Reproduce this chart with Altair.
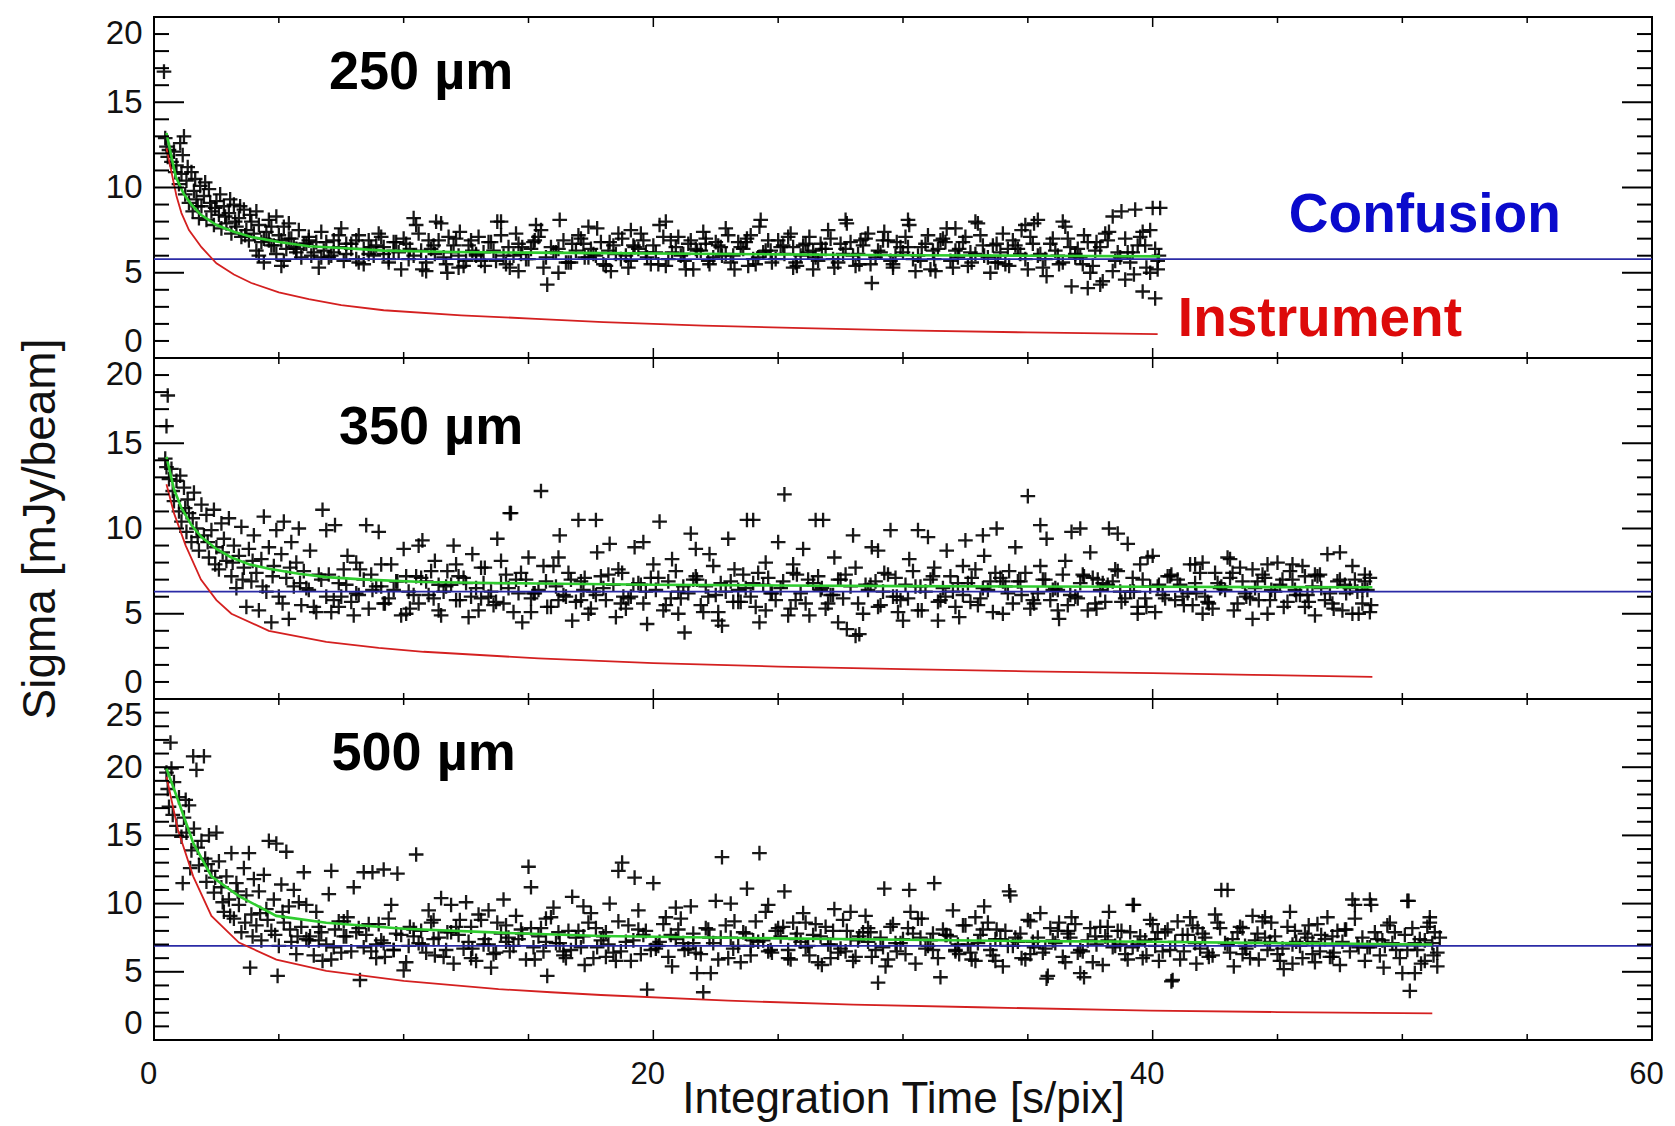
import altair as alt
import pandas as pd

# ---------------- data ----------------
# 250 micron panel: (integration time, sigma)
p250_early = [(0.4,16.8),(0.45,12.9),(0.5,12.4),(0.55,11.8),(0.6,12.2),(0.7,11.5),(0.8,12.1),(0.85,10.9),(0.9,11.3),(1.0,10.2),
              (1.05,12.6),(1.1,10.8),(1.2,13.0),(1.25,9.6),(1.3,10.4),(1.4,9.1),(1.5,10.9),(1.55,8.6),(1.6,9.8),(1.7,9.3),
              (1.8,8.2),(1.85,10.1),(1.9,8.9),(2.0,9.5),(2.1,8.1),(2.2,9.9),(2.3,8.6),(2.4,7.8),(2.5,9.2),(2.6,8.4),
              (2.7,7.6),(2.8,8.9),(2.9,7.9),(3.0,8.5),(3.1,7.3),(3.2,9.0),(3.3,7.7),(3.4,8.2),(3.5,7.1),(3.6,8.7),
              (3.7,7.5),(3.8,6.9),(3.9,8.0),(4.0,7.3),(4.2,7.8),(4.3,6.8),(4.5,7.4),(4.6,8.1),(4.8,6.6),(5.0,7.2),
              (5.2,7.7),(5.3,6.4),(5.5,7.0),(5.7,6.2),(5.8,7.5),(6.0,6.7),(6.2,7.1),(6.3,6.0),(6.5,6.8),(6.7,7.4),
              (6.8,6.3),(7.0,5.9),(7.2,6.9),(7.4,6.5),(7.5,7.6),(7.7,6.1),(7.9,6.7),(8.1,5.8),(8.2,7.2),(8.4,6.4),
              (8.6,6.9),(8.8,6.0),(9.0,7.3),(9.2,6.5),(9.4,5.6),(9.6,6.8),(9.8,6.2),(10.0,7.0),
              (1.15,11.9),(1.35,11.2),(1.65,10.5),(1.75,8.9),(2.05,10.3),(2.25,9.1),(2.45,8.8),(2.65,9.6),(2.85,8.3),(3.05,9.3),
              (3.25,8.0),(3.45,8.9),(3.65,7.2),(3.85,8.4),(4.1,8.6),(4.4,7.0),(4.7,7.7),(4.9,8.3),(5.1,6.9),(5.4,7.9)]
p250_main = [(10.25,6.4),(10.5,7.8),(10.75,5.2),(11.0,6.9),(11.25,6.1),(11.5,7.9),(11.75,5.0),(12.0,6.6),(12.25,7.4),(12.5,5.7),
             (12.75,6.3),(13.0,7.1),(13.25,5.4),(13.5,6.8),(13.75,8.0),(14.0,6.0),(14.25,5.3),(14.5,7.3),(14.75,6.5),(15.0,5.8),
             (15.25,6.9),(15.5,7.5),(15.75,4.3),(16.0,6.2),(16.25,8.1),(16.5,5.6),(16.75,6.7),(17.0,7.2),(17.25,5.9),(17.5,6.4),
             (17.75,7.6),(18.0,5.5),(18.25,6.8),(18.5,6.1),(18.75,7.0),(19.0,5.3),(19.25,6.5),(19.5,7.3),(19.75,5.9),(20.0,6.6),
             (20.25,7.8),(20.5,5.4),(20.75,6.2),(21.0,7.1),(21.25,5.7),(21.5,6.9),(21.75,6.3),(22.0,7.4),(22.25,5.5),(22.5,6.8),
             (22.75,6.0),(23.0,7.2),(23.25,5.2),(23.5,6.5),(23.75,7.0),(24.0,5.8),(24.25,7.7),(24.5,6.3),(24.75,5.6),(25.0,6.9),
             (25.25,6.1),(25.5,7.3),(25.75,5.4),(26.0,6.6),(26.25,7.1),(26.5,5.9),(26.75,6.4),(27.0,7.5),(27.25,5.3),(27.5,6.7),
             (27.75,7.9),(28.0,6.0),(28.25,5.5),(28.5,7.0),(28.75,4.4),(29.0,6.3),(29.25,7.4),(29.5,5.7),(29.75,6.8),(30.0,6.2),
             (30.25,7.8),(30.5,5.1),(30.75,6.5),(31.0,7.2),(31.25,5.8),(31.5,6.9),(31.75,7.6),(32.0,5.3),(32.25,6.4),(32.5,7.1),
             (32.75,5.6),(33.0,7.9),(33.25,6.0),(33.5,5.0),(33.75,6.7),(34.0,7.3),(34.25,5.4),(34.5,6.6),(34.75,7.5),(35.0,5.2),
             (35.25,7.9),(35.5,6.1),(35.75,4.8),(36.0,7.0),(36.25,5.5),(36.5,7.7),(36.75,4.2),(37.0,6.4),(37.25,7.2),(37.5,5.0),
             (37.75,6.8),(38.0,4.5),(38.25,7.4),(38.5,5.7),(38.75,8.6),(39.0,6.2),(39.25,4.9),(39.5,7.1),(39.75,5.3),(40.0,8.8),
             (40.25,6.0)]
p250_extra = [(10.4,8.2),(10.9,5.1),(11.3,8.0),(11.8,7.1),(12.2,5.3),(12.9,6.0),(13.9,8.0),(14.6,5.1),(15.3,7.8),(16.2,5.0),
              (17.4,7.7),(18.3,5.1),(19.1,7.5),(20.5,8.0),(21.3,5.2),(22.1,6.7),(22.9,7.6),(23.8,5.4),(24.3,8.1),(25.6,6.5),
              (26.4,5.2),(27.7,8.1),(28.3,6.9),(29.6,5.3),(30.2,8.1),(31.3,5.1),(32.1,7.6),(32.9,8.0),(33.8,5.6),(34.9,7.8),
              (35.4,8.1),(36.4,8.0),(36.9,5.9),(37.4,4.1),(37.9,4.3),(38.4,8.3),(38.9,4.6),(39.3,8.7),(39.6,3.9),(40.1,3.5),
              (40.3,8.8),(39.9,7.5),(40.2,5.2)]
p250_band_x = [4.1,4.4,4.6,4.9,5.1,5.4,5.6,5.9,6.1,6.4,6.6,6.9,7.1,7.4,7.6,7.9,8.1,8.4,8.6,8.9,
               9.1,9.4,9.6,9.9,10.1,10.4,10.6,10.9,11.1,11.4,11.6,11.9,12.1,12.4,12.6,12.9,13.1,13.4,13.6,13.9,
               14.1,14.4,14.6,14.9,15.1,15.4,15.6,15.9,16.1,16.4,16.6,16.9,17.1,17.4,17.6,17.9,18.1,18.4,18.6,18.9,
               19.1,19.4,19.6,19.9,20.1,20.4,20.6,20.9,21.1,21.4,21.6,21.9,22.1,22.4,22.6,22.9,23.1,23.4,23.6,23.9,
               24.1,24.4,24.6,24.9,25.1,25.4,25.6,25.9,26.1,26.4,26.6,26.9,27.1,27.4,27.6,27.9,28.1,28.4,28.6,28.9,
               29.1,29.4,29.6,29.9,30.1,30.4,30.6,30.9,31.1,31.4,31.6,31.9,32.1,32.4,32.6,32.9,33.1,33.4,33.6,33.9,
               34.1,34.4,34.6,34.9,35.1,35.4,35.6,35.9,36.1,36.4,36.6,36.9,37.1,37.4,37.6,37.9,38.1,38.4,38.6,38.9,
               39.1,39.4,39.6,39.9,40.1]
p250_band_y = [6.3,5.6,6.9,6.1,5.4,7.0,6.5,5.9,6.7,6.2,5.3,6.8,6.0,7.2,5.7,6.4,6.9,5.5,6.1,6.6,
               7.1,5.8,6.3,5.2,6.7,6.0,7.3,5.6,6.4,6.9,5.9,6.2,7.0,5.4,6.6,6.1,5.7,6.8,6.3,7.2,
               5.5,6.0,6.7,5.8,6.4,7.1,5.3,6.5,6.2,6.9,5.6,6.3,7.0,5.9,6.1,6.8,5.4,6.6,7.3,6.0,
               5.7,6.4,6.9,5.5,6.2,7.1,5.8,6.5,6.0,6.7,5.2,6.3,7.0,5.9,6.6,6.1,5.6,6.8,6.4,7.2,
               5.5,6.2,6.9,5.8,6.5,7.1,5.3,6.0,6.7,6.3,5.7,6.4,7.0,5.6,6.1,6.8,5.4,6.6,7.3,5.9,
               6.2,6.9,5.5,6.5,7.1,5.8,6.0,6.7,5.2,6.4,7.0,5.7,6.3,6.8,5.4,6.1,7.2,5.9,6.6,6.2,
               5.5,6.9,6.4,5.8,7.1,6.0,5.3,6.7,6.3,5.6,7.0,6.1,5.9,6.8,5.4,6.5,7.3,5.1,6.2,7.0,
               5.6,6.6,7.4,5.0,6.4]
p250_core_x = [4.2,4.7,5.2,5.7,6.2,6.7,7.2,7.7,8.2,8.7,9.2,9.7,10.2,10.7,11.2,11.7,12.2,12.7,13.2,13.7,
               14.2,14.7,15.2,15.7,16.2,16.7,17.2,17.7,18.2,18.7,19.2,19.7,20.2,20.7,21.2,21.7,22.2,22.7,23.2,23.7,
               24.2,24.7,25.2,25.7,26.2,26.7,27.2,27.7,28.2,28.7,29.2,29.7,30.2,30.7,31.2,31.7,32.2,32.7,33.2,33.7,
               34.2,34.7,35.2,35.7,36.2,36.7,37.2,37.7,38.2,38.7,39.2,39.7,40.2]
p250_core_y = [6.0,6.6,5.7,6.4,6.9,5.9,6.2,6.7,5.6,6.5,6.1,6.8,5.8,6.3,6.6,5.5,6.0,6.9,6.2,5.7,
               6.5,6.1,6.8,5.9,6.4,5.6,6.7,6.0,6.3,5.8,6.6,6.2,5.5,6.9,6.1,6.4,5.7,6.5,6.0,6.8,
               5.9,6.3,6.6,5.6,6.2,6.7,5.8,6.4,6.1,5.5,6.9,6.0,6.5,5.7,6.3,6.8,5.9,6.2,6.6,5.6,
               6.4,6.1,6.7,5.8,6.0,6.5,5.5,6.3,6.9,5.9,6.2,6.6,5.7]

# 350 micron panel
p350_early = [(0.55,17.8),(0.5,16.0),(0.45,14.1),(0.5,13.6),(0.6,12.9),(0.7,13.5),(0.75,12.2),(0.8,11.6),(0.9,12.8),(1.0,11.0),
              (1.05,13.1),(1.1,10.4),(1.2,12.4),(1.3,9.8),(1.35,11.7),(1.4,10.9),(1.5,9.2),(1.6,12.1),(1.7,10.0),(1.8,8.7),
              (1.9,11.4),(2.0,9.6),(2.1,10.8),(2.2,8.3),(2.3,9.9),(2.4,11.1),(2.5,8.9),(2.6,7.6),(2.7,10.3),(2.8,9.4),
              (2.9,8.1),(3.0,10.6),(3.1,7.2),(3.2,9.0),(3.3,6.5),(3.4,8.4),(3.5,10.1),(3.6,7.7),(3.7,5.4),(3.8,8.8),
              (3.9,6.9),(4.0,9.6),(4.1,7.4),(4.2,5.2),(4.3,8.2),(4.4,10.7),(4.5,6.3),(4.6,8.9),(4.7,4.5),(4.8,7.8),
              (4.9,9.9),(5.0,6.0),(5.1,8.5),(5.2,10.4),(5.3,7.1),(5.4,4.7),(5.5,9.2),(5.6,6.6),(5.7,8.0),(5.8,10.0),
              (5.9,5.5),(6.0,7.5),(1.25,11.2),(1.55,10.6),(1.75,9.5),(2.15,9.2),(2.45,7.9),(2.75,8.6),(3.15,8.0),(3.55,7.0),
              (3.95,8.1),(4.35,6.6),(4.75,7.2),(5.15,5.6),(5.45,7.7),(5.85,6.8)]
p350_main = [(6.25,8.7),(6.5,5.1),(6.75,11.1),(7.0,7.3),(7.25,10.2),(7.5,6.0),(7.75,8.4),(8.0,4.9),(8.25,7.6),(8.5,10.2),
             (8.75,6.4),(9.0,9.8),(9.25,5.6),(9.5,7.9),(9.75,6.9),(10.0,8.8),(10.25,5.3),(10.5,7.2),(10.75,9.3),(11.0,6.1),
             (11.25,8.1),(11.5,4.9),(11.75,7.5),(12.0,9.0),(12.25,5.8),(12.5,6.8),(12.75,8.5),(13.0,5.2),(13.25,7.7),(13.5,6.3),
             (13.75,9.4),(14.0,5.6),(14.25,10.9),(14.5,7.0),(14.75,4.5),(15.0,8.3),(15.25,6.2),(15.5,12.2),(15.75,5.4),(16.0,7.8),
             (16.25,9.6),(16.5,6.0),(16.75,4.6),(17.0,10.5),(17.25,7.1),(17.5,5.3),(17.75,8.6),(18.0,6.5),(18.25,9.1),(18.5,4.8),
             (18.75,7.4),(19.0,5.9),(19.25,8.9),(19.5,6.7),(19.75,4.4),(20.0,7.9),(20.25,10.4),(20.5,5.5),(20.75,8.2),(21.0,6.3),
             (21.25,3.9),(21.5,9.7),(21.75,7.0),(22.0,5.1),(22.25,8.5),(22.5,6.1),(22.75,4.3),(23.0,9.4),(23.25,7.6),(23.5,5.7),
             (23.75,10.5),(24.0,6.8),(24.25,4.5),(24.5,8.0),(24.75,6.2),(25.0,9.2),(25.25,12.0),(25.5,5.3),(25.75,7.3),(26.0,8.8),
             (26.25,4.9),(26.5,10.5),(26.75,6.5),(27.0,5.6),(27.25,8.3),(27.5,7.0),(27.75,4.1),(28.0,9.6),(28.25,3.8),(28.5,6.7),
             (28.75,8.9),(29.0,5.4),(29.25,7.4),(29.5,9.9),(29.75,6.0),(30.0,4.6),(30.25,8.2),(30.5,6.6),(30.75,5.2),(31.0,9.5),
             (31.25,7.7),(31.5,5.8),(31.75,8.7),(32.0,6.3),(32.25,4.8),(32.5,9.3),(32.75,7.1),(33.0,5.5),(33.25,8.4),(33.5,6.9),
             (33.75,10.0),(34.0,5.0),(34.25,7.5),(34.5,8.9),(34.75,6.1),(35.0,11.9),(35.25,5.6),(35.5,7.8),(35.75,9.4),(36.0,6.4),
             (36.25,4.7),(36.5,8.1),(36.75,9.8),(37.0,5.9),(37.25,7.2),(37.5,8.6),(37.75,5.3),(38.0,6.8),(38.25,10.0),(38.5,7.6),
             (38.75,5.7),(39.0,9.1),(39.25,6.3),(39.5,7.9),(39.75,5.4),(40.0,8.4),(40.25,6.7),(40.5,5.9),(40.75,7.3),(41.0,7.0),
             (41.25,5.5),(41.5,7.9),(41.75,6.2),(42.0,8.0),(42.25,5.6),(42.5,7.4),(42.75,6.6),(43.0,8.3),(43.25,5.2),(43.5,7.7),
             (43.75,6.0),(44.0,7.6),(44.25,5.8),(44.5,7.1),(44.75,6.4),(45.0,8.0),(45.25,5.4),(45.5,7.5),(45.75,6.1),(46.0,7.8),
             (46.25,5.7),(46.5,7.3),(46.75,6.5),(47.0,8.5),(47.25,5.3),(47.5,7.0),(47.75,6.2),(48.0,7.8),(48.25,5.0),(48.5,6.9),
             (48.75,5.5)]
p350_extra = [(6.9,9.9),(7.4,5.4),(8.1,8.0),(9.1,6.6),(10.1,5.0),(10.6,9.0),(11.4,6.7),(12.1,7.9),(13.1,5.9),(13.9,8.1),
              (14.3,10.9),(15.1,5.1),(16.2,8.3),(17.1,5.8),(17.7,10.5),(18.8,6.0),(19.6,9.2),(21.0,5.0),(21.7,8.8),(22.6,4.6),
              (23.4,6.4),(24.0,10.5),(24.5,5.2),(25.6,7.9),(26.8,10.5),(27.4,4.5),(28.1,3.7),(29.0,8.7),(29.8,5.1),(30.6,9.9),
              (31.4,4.6),(32.4,7.8),(33.2,9.6),(34.0,6.9),(35.5,10.2),(36.2,5.2),(37.1,10.0),(37.8,7.0),(38.6,9.7),(39.4,5.0),
              (39.8,8.3),(41.7,7.9),(42.0,5.0),(43.1,8.2),(44.0,4.7),(44.6,7.9),(45.6,7.9),(46.1,7.2),(46.5,4.9),(47.5,8.6),
              (48.0,5.0),(48.5,7.3),(48.7,5.1),(48.4,6.4)]
p350_band_x = [6.1,6.4,6.6,6.9,7.1,7.4,7.6,7.9,8.1,8.4,8.6,8.9,9.1,9.4,9.6,9.9,10.1,10.4,10.6,10.9,
               11.1,11.4,11.6,11.9,12.1,12.4,12.6,12.9,13.1,13.4,13.6,13.9,14.1,14.4,14.6,14.9,15.1,15.4,15.6,15.9,
               16.1,16.4,16.6,16.9,17.1,17.4,17.6,17.9,18.1,18.4,18.6,18.9,19.1,19.4,19.6,19.9,20.1,20.4,20.6,20.9,
               21.1,21.4,21.6,21.9,22.1,22.4,22.6,22.9,23.1,23.4,23.6,23.9,24.1,24.4,24.6,24.9,25.1,25.4,25.6,25.9,
               26.1,26.4,26.6,26.9,27.1,27.4,27.6,27.9,28.1,28.4,28.6,28.9,29.1,29.4,29.6,29.9,30.1,30.4,30.6,30.9,
               31.1,31.4,31.6,31.9,32.1,32.4,32.6,32.9,33.1,33.4,33.6,33.9,34.1,34.4,34.6,34.9,35.1,35.4,35.6,35.9,
               36.1,36.4,36.6,36.9,37.1,37.4,37.6,37.9,38.1,38.4,38.6,38.9,39.1,39.4,39.6,39.9,40.1,40.4,40.6,40.9,
               41.1,41.4,41.6,41.9,42.1,42.4,42.6,42.9,43.1,43.4,43.6,43.9,44.1,44.4,44.6,44.9,45.1,45.4,45.6,45.9,
               46.1,46.4,46.6,46.9,47.1,47.4,47.6,47.9,48.1,48.4,48.6]
p350_band_y = [6.5,5.4,7.3,6.0,5.1,6.8,7.6,5.7,6.2,7.0,5.3,6.6,7.9,5.9,6.4,4.9,7.2,6.1,5.6,6.9,
               7.5,5.2,6.3,6.7,5.8,7.1,4.8,6.5,7.7,6.0,5.5,6.8,7.3,5.1,6.2,7.0,5.9,6.4,7.8,5.4,
               6.6,6.1,7.4,5.7,6.9,5.0,6.3,7.2,5.8,6.7,7.6,5.3,6.0,6.8,5.6,7.1,6.4,5.2,6.9,7.5,
               5.9,6.2,7.0,5.5,6.6,7.8,5.1,6.3,6.9,5.7,7.3,6.0,5.4,6.7,7.1,5.8,6.5,4.9,7.4,6.2,
               5.6,6.8,7.2,5.3,6.1,7.0,5.9,6.6,7.7,5.0,6.4,6.9,5.5,7.3,6.0,5.8,6.7,7.5,5.2,6.3,
               7.0,5.7,6.5,7.2,5.4,6.1,6.8,7.6,5.9,6.4,5.1,7.1,6.6,5.6,6.9,7.4,5.3,6.2,7.0,5.8,
               6.5,7.3,5.5,6.0,6.8,5.2,7.1,6.4,5.7,6.9,7.5,5.9,6.3,5.4,7.0,6.6,5.1,6.1,7.2,5.8,
               6.7,6.2,5.5,7.4,6.0,5.3,6.8,6.4,7.1,5.6,6.9,5.9,6.5,7.3,5.0,6.3,6.7,5.7,7.0,6.1,
               5.4,6.6,7.2,5.8,6.2,6.9,5.2,6.5,7.0,5.6,6.4]
p350_core_x = [6.2,6.7,7.2,7.7,8.2,8.7,9.2,9.7,10.2,10.7,11.2,11.7,12.2,12.7,13.2,13.7,14.2,14.7,15.2,15.7,
               16.2,16.7,17.2,17.7,18.2,18.7,19.2,19.7,20.2,20.7,21.2,21.7,22.2,22.7,23.2,23.7,24.2,24.7,25.2,25.7,
               26.2,26.7,27.2,27.7,28.2,28.7,29.2,29.7,30.2,30.7,31.2,31.7,32.2,32.7,33.2,33.7,34.2,34.7,35.2,35.7,
               36.2,36.7,37.2,37.7,38.2,38.7,39.2,39.7,40.2,40.7,41.2,41.7,42.2,42.7,43.2,43.7,44.2,44.7,45.2,45.7,
               46.2,46.7,47.2,47.7,48.2,48.7]
p350_core_y = [6.4,7.0,5.8,6.7,6.1,7.3,5.6,6.9,6.3,7.1,5.9,6.6,7.2,6.0,6.8,5.7,6.5,7.4,6.2,6.9,
               5.8,7.0,6.4,6.1,7.3,5.6,6.7,6.3,7.1,5.9,6.6,7.2,6.0,6.8,5.7,6.5,7.4,6.2,6.9,5.8,
               7.0,6.4,6.1,7.3,5.6,6.7,6.3,7.1,5.9,6.6,7.2,6.0,6.8,5.7,6.5,7.4,6.2,6.9,5.8,7.0,
               6.4,6.1,7.3,5.6,6.7,6.3,7.1,5.9,6.6,7.2,6.0,6.8,5.7,6.5,7.4,6.2,6.9,5.8,7.0,6.4,
               6.1,7.3,5.6,6.7,6.3,7.1]

# 500 micron panel
p500_early = [(0.5,19.6),(0.66,21.8),(0.7,19.9),(0.55,18.4),(0.6,17.1),(0.75,16.5),(0.8,18.9),(0.9,15.7),(1.0,17.8),(1.1,14.9),
              (1.2,16.3),(1.27,17.6),(1.3,15.2),(1.4,17.2),(1.5,13.9),(1.57,20.8),(1.6,15.5),(1.7,19.8),(1.8,12.8),(1.9,14.6),
              (2.0,20.8),(2.05,13.3),(2.1,11.6),(2.2,15.0),(2.3,12.4),(2.4,10.8),(2.5,15.2),(2.6,13.1),(2.7,11.2),(2.8,9.4),
              (2.9,12.0),(3.0,10.3),(3.1,13.7),(3.2,8.9),(3.3,11.5),(3.4,9.9),(3.5,7.9),(3.6,12.6),(3.7,10.6),(3.8,13.7),
              (3.85,5.3),(3.9,9.2),(4.0,11.8),(4.1,8.4),(4.2,10.9),(4.3,7.3),(4.4,12.1),(4.5,9.6),(4.6,14.6),(4.7,8.0),
              (4.8,10.3),(4.9,14.4),(4.95,4.7),(5.0,6.9),(5.1,11.4),(5.2,8.6),(5.3,13.8),(5.4,9.8),(5.5,7.2),(5.6,11.0),
              (5.7,6.3),(5.8,10.1),(5.9,8.3),(6.0,12.3),(1.15,11.5),(1.45,12.6),(1.75,14.1),(2.15,12.9),(2.45,11.9),(2.75,10.1),
              (3.05,9.1),(3.35,10.9),(3.65,8.6),(3.95,7.6),(4.25,9.3),(4.55,8.8),(4.85,7.7),(5.15,9.4),(5.45,8.1),(5.75,7.6)]
p500_main = [(6.25,7.6),(6.5,9.4),(6.75,5.8),(7.0,10.7),(7.25,8.1),(7.5,6.4),(7.75,9.0),(8.0,11.2),(8.25,4.4),(8.5,7.7),
             (8.75,12.3),(9.0,8.5),(9.25,6.1),(9.5,9.9),(9.75,12.2),(10.0,5.1),(10.25,8.3),(10.5,13.6),(10.75,7.0),(11.0,9.5),
             (11.25,6.2),(11.5,10.4),(11.75,7.9),(12.0,5.6),(12.25,8.8),(12.5,10.1),(12.75,6.7),(13.0,9.2),(13.25,7.4),(13.5,5.3),
             (13.75,8.6),(14.0,10.3),(14.25,6.5),(14.5,9.1),(14.75,7.8),(15.0,12.7),(15.25,5.9),(15.5,8.2),(15.75,4.7),(16.0,9.7),
             (16.25,7.1),(16.5,6.0),(16.75,10.5),(17.0,8.0),(17.25,5.5),(17.5,9.3),(17.75,6.8),(18.0,7.6),(18.25,10.0),(18.5,5.8),
             (18.75,13.0),(19.0,8.4),(19.25,11.9),(19.5,6.3),(19.75,3.7),(20.0,11.5),(20.25,7.2),(20.5,9.0),(20.75,5.4),(21.0,8.1),
             (21.25,6.6),(21.5,9.8),(21.75,4.9),(22.0,3.5),(22.25,7.5),(22.5,10.2),(22.75,13.4),(23.0,6.0),(23.25,8.7),(23.5,5.7),
             (23.75,11.1),(24.0,7.3),(24.25,13.7),(24.5,9.4),(24.75,6.4),(25.0,8.2),(25.25,10.9),(25.5,5.9),(25.75,7.8),(26.0,9.3),
             (26.25,6.2),(26.5,8.5),(26.75,5.5),(27.0,7.0),(27.25,9.6),(27.5,6.7),(27.75,8.0),(28.0,5.8),(28.25,7.6),(28.5,9.1),
             (28.75,6.1),(29.0,4.2),(29.25,11.1),(29.5,8.3),(29.75,6.5),(30.0,7.4),(30.25,11.0),(30.5,5.6),(30.75,8.9),(31.0,6.9),
             (31.25,11.5),(31.5,4.6),(31.75,7.7),(32.0,9.5),(32.25,6.3),(32.5,8.4),(32.75,5.9),(33.0,7.1),(33.25,9.8),(33.5,6.6),
             (33.75,8.1),(34.0,5.4),(34.25,10.9),(34.5,7.5),(34.75,6.0),(35.0,8.8),(35.25,6.8),(35.5,9.3),(35.75,4.5),(36.0,7.3),
             (36.25,8.6),(36.5,5.7),(36.75,9.0),(37.0,6.4),(37.25,4.6),(37.5,8.2),(37.75,7.0),(38.0,5.5),(38.25,9.4),(38.5,6.9),
             (38.75,8.0),(39.0,5.9),(39.25,9.9),(39.5,7.6),(39.75,6.2),(40.0,8.5),(40.25,5.8),(40.5,7.9),(40.75,4.3),(41.0,8.7),
             (41.25,6.5),(41.5,9.0),(41.75,5.6),(42.0,7.8),(42.25,6.1),(42.5,9.2),(42.75,11.0),(43.0,7.0),(43.25,5.4),(43.5,8.3),
             (43.75,6.7),(44.0,9.1),(44.25,5.9),(44.5,7.5),(44.75,8.6),(45.0,6.3),(45.25,5.2),(45.5,9.4),(45.75,7.2),(46.0,6.0),
             (46.25,8.4),(46.5,5.7),(46.75,7.7),(47.0,9.0),(47.25,6.4),(47.5,5.5),(47.75,8.1),(48.0,10.3),(48.25,6.8),(48.5,5.8),
             (48.75,9.9),(49.0,7.4),(49.25,5.3),(49.5,8.6),(49.75,6.6),(50.0,4.9),(50.25,10.2),(50.5,7.1),(50.75,5.6),(51.0,8.3),
             (51.25,6.2),(51.5,7.5)]
p500_extra = [(6.1,9.9),(6.6,7.3),(7.1,12.4),(7.6,8.7),(8.4,12.3),(8.9,7.0),(9.2,12.5),(9.6,6.6),(10.4,7.6),(11.2,8.8),
              (11.9,9.9),(12.7,6.0),(13.4,9.5),(14.1,7.2),(15.1,11.2),(15.7,8.9),(16.4,6.5),(17.2,9.8),(18.1,6.1),(18.6,12.4),
              (19.4,9.5),(20.1,6.7),(20.9,9.7),(21.6,7.1),(22.3,4.9),(23.1,10.0),(23.9,6.9),(24.6,9.9),(25.4,6.6),(26.1,8.6),
              (27.1,6.0),(27.9,9.4),(28.6,7.2),(29.3,5.4),(30.3,9.4),(31.2,7.8),(32.1,6.6),(32.9,9.0),(33.7,5.8),(34.3,10.6),
              (35.1,6.3),(35.8,4.7),(36.6,8.0),(37.1,4.9),(38.2,7.3),(39.2,9.9),(40.1,6.9),(40.8,4.4),(41.8,8.2),(43.0,11.0),
              (43.6,6.3),(44.5,9.0),(45.6,5.6),(46.4,7.2),(47.2,6.1),(48.1,9.9),(48.7,10.3),(49.3,6.9),(50.2,10.2),(50.3,3.6),
              (50.5,4.9),(50.9,5.8),(51.3,7.9),(51.4,5.4),(51.1,9.0)]
p500_band_x = [6.1,6.4,6.6,6.9,7.1,7.4,7.6,7.9,8.1,8.4,8.6,8.9,9.1,9.4,9.6,9.9,10.1,10.4,10.6,10.9,
               11.1,11.4,11.6,11.9,12.1,12.4,12.6,12.9,13.1,13.4,13.6,13.9,14.1,14.4,14.6,14.9,15.1,15.4,15.6,15.9,
               16.1,16.4,16.6,16.9,17.1,17.4,17.6,17.9,18.1,18.4,18.6,18.9,19.1,19.4,19.6,19.9,20.1,20.4,20.6,20.9,
               21.1,21.4,21.6,21.9,22.1,22.4,22.6,22.9,23.1,23.4,23.6,23.9,24.1,24.4,24.6,24.9,25.1,25.4,25.6,25.9,
               26.1,26.4,26.6,26.9,27.1,27.4,27.6,27.9,28.1,28.4,28.6,28.9,29.1,29.4,29.6,29.9,30.1,30.4,30.6,30.9,
               31.1,31.4,31.6,31.9,32.1,32.4,32.6,32.9,33.1,33.4,33.6,33.9,34.1,34.4,34.6,34.9,35.1,35.4,35.6,35.9,
               36.1,36.4,36.6,36.9,37.1,37.4,37.6,37.9,38.1,38.4,38.6,38.9,39.1,39.4,39.6,39.9,40.1,40.4,40.6,40.9,
               41.1,41.4,41.6,41.9,42.1,42.4,42.6,42.9,43.1,43.4,43.6,43.9,44.1,44.4,44.6,44.9,45.1,45.4,45.6,45.9,
               46.1,46.4,46.6,46.9,47.1,47.4,47.6,47.9,48.1,48.4,48.6,48.9,49.1,49.4,49.6,49.9,50.1,50.4,50.6,50.9,
               51.1,51.4]
p500_band_y = [7.4,6.2,8.3,7.0,5.9,8.7,7.6,6.5,7.9,6.8,8.5,6.0,7.3,8.9,6.6,7.7,5.7,8.1,7.1,6.4,
               8.6,7.5,6.1,7.9,8.3,6.7,7.2,5.8,8.8,7.0,6.3,7.8,8.4,6.9,7.4,5.9,8.2,7.6,6.5,9.0,
               7.1,6.2,8.0,7.5,6.8,8.6,6.0,7.3,7.9,6.4,8.7,7.2,5.8,8.1,7.7,6.6,7.0,8.5,6.1,7.4,
               8.9,6.7,7.8,6.3,8.2,7.1,5.9,8.4,7.5,6.9,7.9,6.2,8.7,7.3,6.5,8.0,7.6,6.0,8.6,7.2,
               6.8,7.7,5.7,8.3,7.0,6.4,8.8,7.4,6.1,7.9,8.2,6.6,7.5,5.9,8.5,7.1,6.3,7.8,8.9,6.7,
               7.3,6.0,8.1,7.6,6.5,8.4,7.0,5.8,7.7,8.6,6.2,7.4,8.0,6.9,7.2,5.9,8.7,7.5,6.4,8.2,
               7.1,6.1,7.8,8.5,6.6,7.3,5.7,8.3,7.6,6.8,8.0,6.3,7.9,7.0,6.0,8.8,7.4,6.5,8.1,7.2,
               5.9,7.7,8.4,6.7,7.5,6.2,8.6,7.1,6.4,7.9,8.2,6.0,7.3,8.7,6.6,7.6,5.8,8.3,7.0,6.9,
               7.8,6.3,8.5,7.4,6.1,8.0,7.2,6.5,8.9,7.5,6.8,7.9,6.2,8.4,7.1,6.0,7.7,8.2,6.6,7.3,
               8.6,6.4]
p500_core_x = [6.2,6.7,7.2,7.7,8.2,8.7,9.2,9.7,10.2,10.7,11.2,11.7,12.2,12.7,13.2,13.7,14.2,14.7,15.2,15.7,
               16.2,16.7,17.2,17.7,18.2,18.7,19.2,19.7,20.2,20.7,21.2,21.7,22.2,22.7,23.2,23.7,24.2,24.7,25.2,25.7,
               26.2,26.7,27.2,27.7,28.2,28.7,29.2,29.7,30.2,30.7,31.2,31.7,32.2,32.7,33.2,33.7,34.2,34.7,35.2,35.7,
               36.2,36.7,37.2,37.7,38.2,38.7,39.2,39.7,40.2,40.7,41.2,41.7,42.2,42.7,43.2,43.7,44.2,44.7,45.2,45.7,
               46.2,46.7,47.2,47.7,48.2,48.7,49.2,49.7,50.2,50.7,51.2]
p500_core_y = [7.3,7.9,6.8,7.6,8.2,6.5,7.1,7.8,6.9,8.0,7.4,6.6,7.7,8.3,7.0,6.4,7.5,8.1,6.8,7.2,
               7.9,6.6,7.6,8.2,7.0,6.5,7.3,8.0,6.9,7.7,7.1,6.4,8.1,7.5,6.7,7.8,7.2,6.6,8.3,7.4,
               6.9,7.6,8.0,6.5,7.3,7.9,6.8,7.1,8.2,7.5,6.6,7.7,7.0,6.4,8.1,7.4,6.9,7.8,7.2,6.7,
               8.0,7.5,6.5,7.6,8.3,7.0,6.8,7.3,7.9,6.6,7.7,7.1,6.4,8.2,7.4,6.9,7.8,7.2,6.7,8.0,
               7.5,6.5,7.6,8.1,7.0,6.8,7.3,7.9,6.6,7.4,7.1]

# instrument-noise curves (red) and fits (green)
red250 = [(0.5,12.3),(0.7,10.9),(0.9,9.5),(1.1,8.5),(1.4,7.5),(1.9,6.5),(2.5,5.55),(3.2,4.9),(3.9,4.4),(5.0,3.85),
          (6.2,3.45),(7.5,3.1),(9.2,2.8),(12.3,2.5),(15.3,2.3),(18.0,2.1),(22.0,1.9),(26.0,1.75),(30.0,1.62),(35.0,1.5),(40.2,1.4)]
green250 = [(0.5,13.2),(0.7,11.8),(0.88,10.6),(1.2,9.6),(1.5,9.0),(1.88,8.4),(2.5,7.8),(3.2,7.4),(3.9,7.1),(5.0,6.8),
            (6.2,6.55),(7.5,6.45),(9.2,6.3),(12.0,6.22),(15.0,6.18),(18.0,6.15),(25.0,6.08),(30.0,6.03),(35.0,6.0),(40.3,5.96)]
red350 = [(0.5,12.6),(0.8,10.9),(1.27,9.0),(1.88,7.0),(2.5,5.8),(3.1,5.0),(4.6,4.0),(6.9,3.35),(9.0,3.0),(10.8,2.77),
          (15.4,2.38),(20.0,2.1),(25.0,1.9),(30.0,1.75),(35.0,1.62),(40.0,1.52),(44.0,1.42),(48.8,1.3)]
green350 = [(0.5,14.2),(0.8,12.3),(1.1,11.2),(1.5,10.2),(1.9,9.5),(2.5,8.8),(3.1,8.3),(3.8,7.9),(4.6,7.64),(5.8,7.35),
            (6.9,7.15),(8.5,7.0),(10.8,6.86),(15.4,6.77),(20.0,6.7),(25.0,6.66),(30.0,6.62),(35.0,6.6),(40.0,6.58),(45.0,6.56),(48.8,6.55)]
red500 = [(0.5,19.3),(0.96,15.4),(1.57,12.0),(2.3,9.1),(3.4,7.14),(4.9,5.9),(6.9,5.07),(10.0,4.33),(13.8,3.73),(15.9,3.5),
          (17.9,3.3),(23.0,2.88),(28.0,2.6),(33.0,2.4),(39.9,2.15),(45.0,2.05),(51.2,1.95)]
green500 = [(0.5,19.9),(0.96,17.6),(1.57,14.45),(2.3,12.0),(3.4,10.55),(4.9,9.1),(6.9,8.6),(10.0,8.16),(13.8,7.87),(17.9,7.62),
            (25.0,7.45),(30.0,7.35),(35.0,7.25),(40.0,7.2),(45.0,7.1),(51.2,7.0)]

# confusion levels (blue lines)
conf250, conf350, conf500 = 5.8, 6.3, 6.9

# axis ticks / labels
x_major = [0, 20, 40, 60]
x_minor = [5, 10, 15, 25, 30, 35, 45, 50, 55]
y_major20 = [0, 5, 10, 15, 20]
y_minor20 = [1, 2, 3, 4, 6, 7, 8, 9, 11, 12, 13, 14, 16, 17, 18, 19]
y_major25 = [0, 5, 10, 15, 20, 25]
y_minor25 = [1, 2, 3, 4, 6, 7, 8, 9, 11, 12, 13, 14, 16, 17, 18, 19, 21, 22, 23, 24]

# annotation texts and their data positions
band_labels = ["250 \u00b5m", "350 \u00b5m", "500 \u00b5m"]
band_label_pos = [(10.7, 16.7), (11.1, 15.9), (10.8, 21.0)]
conf_text, conf_text_pos = "Confusion", (50.9, 8.4)
inst_text, inst_text_pos = "Instrument", (46.7, 2.3)

# ---------------- styling ----------------
W, H = 1498, 341
FONT = "Liberation Sans"
PLUS = "M-1,0L1,0M0,-1L0,1"
BLUE_LINE = "#2b2ba6"
GREEN = "#2fcc2f"
RED = "#d42020"
MAJ_Y, MIN_Y = 30, 15
MAJ_X, MIN_X = 10, 6


def pairs(xs, ys):
    assert len(xs) == len(ys)
    return list(zip(xs, ys))


def panel(points, red, green, conf, ymax, ymaj, ymin, band_idx, bottom, y_title, extra=False):
    xs = alt.Scale(domain=[0, 60], nice=False, zero=False)
    ys = alt.Scale(domain=[0, ymax], nice=False, zero=False)
    if bottom:
        xaxis = alt.Axis(values=x_major, ticks=False, domain=False, grid=False, labelFontSize=31,
                         labelPadding=19, labelFlush=False, labelOffset=-6, labelColor="#111",
                         titleFontSize=44, titleFontWeight="normal", titlePadding=-12, titleColor="#111")
        xtitle = "Integration Time [s/pix]"
    else:
        xaxis = None
        xtitle = None
    yaxis = alt.Axis(values=ymaj, ticks=False, domain=False, grid=False, labelFontSize=33,
                     labelPadding=12, labelFlush=True, labelColor="#111",
                     titleFontSize=46, titleFontWeight="normal", titlePadding=41, titleColor="#111")

    def X():
        return alt.X("t:Q", scale=xs, axis=xaxis, title=xtitle)

    def Y():
        return alt.Y("s:Q", scale=ys, axis=yaxis, title=y_title)

    pts = pd.DataFrame(points, columns=["t", "s"])
    layers = []
    layers.append(alt.Chart(pts).mark_point(shape=PLUS, filled=False, color="black", size=215,
                                            strokeWidth=2.3, opacity=0.9).encode(x=X(), y=Y()))
    layers.append(alt.Chart(pd.DataFrame({"s": [conf]})).mark_rule(color=BLUE_LINE, strokeWidth=1.6).encode(y=Y()))
    layers.append(alt.Chart(pd.DataFrame(red, columns=["t", "s"])).mark_line(color=RED, strokeWidth=1.8).encode(x=X(), y=Y()))
    layers.append(alt.Chart(pd.DataFrame(green, columns=["t", "s"])).mark_line(color=GREEN, strokeWidth=2.6).encode(x=X(), y=Y()))

    # inward ticks on all four sides
    ymaj_df = pd.DataFrame({"s": ymaj})
    ymin_df = pd.DataFrame({"s": ymin})
    for df, L in ((ymaj_df, MAJ_Y), (ymin_df, MIN_Y)):
        layers.append(alt.Chart(df).mark_rule(color="black", strokeWidth=2).encode(
            y=Y(), x=alt.value(0), x2=alt.value(L)))
        layers.append(alt.Chart(df).mark_rule(color="black", strokeWidth=2).encode(
            y=Y(), x=alt.value(W - L), x2=alt.value(W)))
    xmaj_df = pd.DataFrame({"t": x_major})
    xmin_df = pd.DataFrame({"t": x_minor})
    for df, L in ((xmaj_df, MAJ_X), (xmin_df, MIN_X)):
        layers.append(alt.Chart(df).mark_rule(color="black", strokeWidth=1.5).encode(
            x=X(), y=alt.value(0), y2=alt.value(L)))
        layers.append(alt.Chart(df).mark_rule(color="black", strokeWidth=1.5).encode(
            x=X(), y=alt.value(H - L), y2=alt.value(H)))

    bx, by = band_label_pos[band_idx]
    layers.append(alt.Chart(pd.DataFrame({"t": [bx], "s": [by], "lab": [band_labels[band_idx]]})).mark_text(
        font=FONT, fontSize=54, fontWeight="bold", color="black", align="center", baseline="middle"
    ).encode(x=X(), y=Y(), text="lab:N"))
    if extra:
        layers.append(alt.Chart(pd.DataFrame({"t": [conf_text_pos[0]], "s": [conf_text_pos[1]], "lab": [conf_text]})).mark_text(
            font=FONT, fontSize=55, fontWeight="bold", color="#0a0acc", align="center", baseline="middle"
        ).encode(x=X(), y=Y(), text="lab:N"))
        layers.append(alt.Chart(pd.DataFrame({"t": [inst_text_pos[0]], "s": [inst_text_pos[1]], "lab": [inst_text]})).mark_text(
            font=FONT, fontSize=55, fontWeight="bold", color="#dd0a0a", align="center", baseline="middle"
        ).encode(x=X(), y=Y(), text="lab:N"))
    return alt.layer(*layers).properties(width=W, height=H)


p1 = panel(p250_early + p250_main + p250_extra + pairs(p250_band_x, p250_band_y) + pairs(p250_core_x, p250_core_y),
           red250, green250, conf250, 20, y_major20, y_minor20, 0, False, None, extra=True)
p2 = panel(p350_early + p350_main + p350_extra + pairs(p350_band_x, p350_band_y) + pairs(p350_core_x, p350_core_y),
           red350, green350, conf350, 20, y_major20, y_minor20, 1, False, "Sigma [mJy/beam]")
p3 = panel(p500_early + p500_main + p500_extra + pairs(p500_band_x, p500_band_y) + pairs(p500_core_x, p500_core_y),
           red500, green500, conf500, 25, y_major25, y_minor25, 2, True, None)

chart = alt.vconcat(p1, p2, p3, spacing=0, bounds="flush").properties(
    padding={"left": 8, "top": 7, "right": 0, "bottom": 0},
    background="white",
).configure_view(stroke="black", strokeWidth=2).configure_axis(labelFont=FONT, titleFont=FONT)

chart.save("out.html", embed_options={"renderer": "svg", "actions": False})
